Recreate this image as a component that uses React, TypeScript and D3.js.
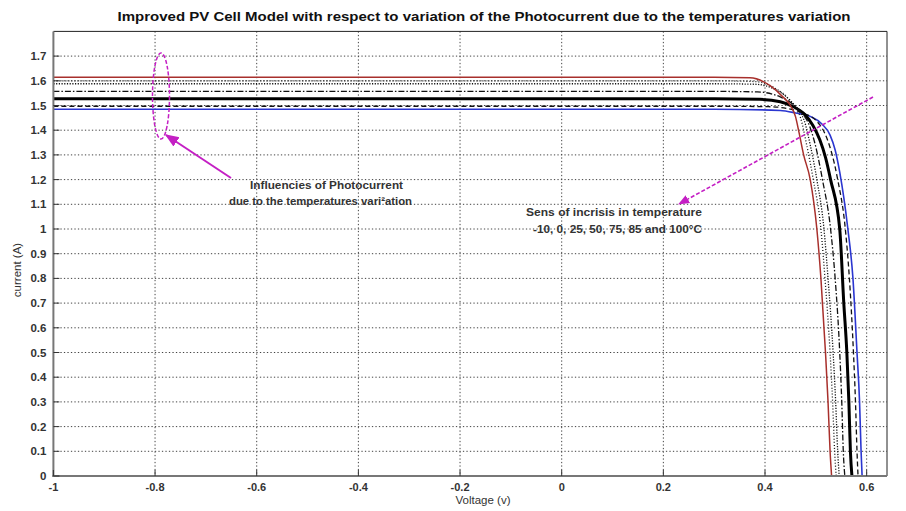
import * as React from 'react';
import { useEffect, useRef } from 'react';
import * as d3 from 'd3';

// temperatures in degC, one I-V curve each
const temps = [-10, 0, 25, 50, 75, 85, 100];

// [voltage (V), current (A)]
const curveM10: [number, number][] = [
  [-1, 1.485], [0.3, 1.485], [0.43, 1.48], [0.46, 1.47], [0.49, 1.455], [0.512, 1.425],
  [0.528, 1.38], [0.538, 1.32], [0.547, 1.23], [0.563, 1.0], [0.573, 0.8], [0.581, 0.5],
  [0.586, 0.3], [0.589, 0.1], [0.591, 0],
];
const curve0: [number, number][] = [
  [-1, 1.497], [0.3, 1.497], [0.41, 1.495], [0.45, 1.485], [0.48, 1.465], [0.5, 1.44],
  [0.517, 1.39], [0.528, 1.33], [0.537, 1.26], [0.543, 1.2], [0.558, 1.0], [0.566, 0.8],
  [0.574, 0.5], [0.578, 0.3], [0.581, 0.1], [0.583, 0],
];
const curve25: [number, number][] = [
  [-1, 1.527], [0.3, 1.527], [0.39, 1.525], [0.43, 1.515], [0.456, 1.495], [0.476, 1.468],
  [0.494, 1.42], [0.508, 1.36], [0.519, 1.29], [0.529, 1.2], [0.547, 1.0], [0.555, 0.7],
  [0.561, 0.5], [0.565, 0.3], [0.568, 0.1], [0.571, 0],
];
const curve50: [number, number][] = [
  [-1, 1.557], [0.3, 1.557], [0.385, 1.555], [0.43, 1.535], [0.455, 1.505], [0.472, 1.47],
  [0.485, 1.43], [0.499, 1.34], [0.513, 1.2], [0.529, 1.0], [0.538, 0.8], [0.547, 0.5],
  [0.551, 0.3], [0.554, 0.1], [0.557, 0],
];
const curve75: [number, number][] = [
  [-1, 1.588], [0.3, 1.588], [0.38, 1.586], [0.425, 1.56], [0.45, 1.52], [0.466, 1.48],
  [0.477, 1.44], [0.489, 1.34], [0.502, 1.2], [0.516, 1.0], [0.524, 0.8], [0.534, 0.5],
  [0.539, 0.3], [0.543, 0.1], [0.546, 0],
];
const curve85: [number, number][] = [
  [-1, 1.6], [0.3, 1.6], [0.38, 1.597], [0.42, 1.57], [0.445, 1.53], [0.46, 1.49],
  [0.47, 1.45], [0.482, 1.34], [0.495, 1.2], [0.51, 1.0], [0.518, 0.8], [0.528, 0.5],
  [0.533, 0.3], [0.537, 0.1], [0.54, 0],
];
const curve100: [number, number][] = [
  [-1, 1.614], [0.3, 1.614], [0.37, 1.612], [0.41, 1.58], [0.435, 1.535], [0.45, 1.5],
  [0.46, 1.455], [0.467, 1.39], [0.476, 1.3], [0.489, 1.2], [0.502, 1.0], [0.51, 0.8],
  [0.519, 0.5], [0.524, 0.3], [0.528, 0.1], [0.531, 0],
];
const curves = [curveM10, curve0, curve25, curve50, curve75, curve85, curve100];

const xTicks = [-1, -0.8, -0.6, -0.4, -0.2, 0, 0.2, 0.4, 0.6];
const xTickLabels = ['-1', '-0.8', '-0.6', '-0.4', '-0.2', '0', '0.2', '0.4', '0.6'];
const yTicks = [0, 0.1, 0.2, 0.3, 0.4, 0.5, 0.6, 0.7, 0.8, 0.9, 1, 1.1, 1.2, 1.3, 1.4, 1.5, 1.6, 1.7];
const yTickLabels = ['0', '0.1', '0.2', '0.3', '0.4', '0.5', '0.6', '0.7', '0.8', '0.9', '1', '1.1', '1.2', '1.3', '1.4', '1.5', '1.6', '1.7'];

const title = 'Improved PV Cell Model with respect to variation of the Photocurrent due to the temperatures variation';
const note1 = ['Influencies of Photocurrent', 'due to the temperatures vari\u00b2ation'];
const note2 = ['Sens of incrisis in temperature', '-10, 0, 25, 50, 75, 85 and 100\u00b0C'];

// line style per temperature (same order as temps)
const styles = [
  { color: '#2b36d0', width: 1.6, dash: '' },
  { color: '#111', width: 1.3, dash: '5,3' },
  { color: '#000', width: 3, dash: '' },
  { color: '#111', width: 1.3, dash: '6,2,1.5,2' },
  { color: '#111', width: 1.3, dash: '1.2,1.5' },
  { color: '#111', width: 1.3, dash: '1,2' },
  { color: '#a8302c', width: 1.5, dash: '' },
];

const FONT = '"Liberation Sans", Arial, sans-serif';

export default function App() {
  const ref = useRef<SVGSVGElement | null>(null);

  useEffect(() => {
    if (!ref.current) return;
    const svg = d3.select(ref.current);
    svg.selectAll('*').remove();

    const left = 53.4, right = 887, top = 31.4, bottom = 476;
    const x = d3.scaleLinear().domain([-1, 0.64]).range([left, right]);
    const y = d3.scaleLinear().domain([0, 1.8]).range([bottom, top]);

    svg.append('rect').attr('width', 906).attr('height', 511).attr('fill', '#fff');

    const defs = svg.append('defs');
    defs.append('clipPath').attr('id', 'plotclip')
      .append('rect').attr('x', left).attr('y', top).attr('width', right - left).attr('height', bottom - top);
    defs.append('marker').attr('id', 'arr').attr('viewBox', '0 0 10 10')
      .attr('refX', 9).attr('refY', 5).attr('markerWidth', 7).attr('markerHeight', 7)
      .attr('orient', 'auto-start-reverse')
      .append('path').attr('d', 'M0,1 L10,5 L0,9 Z').attr('fill', '#c41fc4');

    // grid
    const grid = svg.append('g').attr('stroke', '#444').attr('stroke-width', 1).attr('stroke-dasharray', '1.3,2.2');
    grid.selectAll('line.gx').data(xTicks.slice(1)).enter().append('line')
      .attr('x1', d => x(d)).attr('x2', d => x(d)).attr('y1', top).attr('y2', bottom);
    grid.selectAll('line.gy').data(yTicks.slice(1)).enter().append('line')
      .attr('y1', d => y(d)).attr('y2', d => y(d)).attr('x1', left).attr('x2', right);

    // curves
    const line = d3.line<[number, number]>()
      .x(d => x(d[0]))
      .y(d => y(d[1]))
      .curve(d3.curveMonotoneX);
    const g = svg.append('g').attr('clip-path', 'url(#plotclip)');
    curves.forEach((c, i) => {
      const s = styles[i];
      g.append('path')
        .attr('d', line(c))
        .attr('fill', 'none')
        .attr('stroke', s.color)
        .attr('stroke-width', s.width)
        .attr('stroke-dasharray', s.dash || null)
        .attr('data-temp', temps[i]);
    });

    // box
    svg.append('line').attr('x1', left).attr('x2', right).attr('y1', top).attr('y2', top).attr('stroke', '#222');
    svg.append('line').attr('x1', right).attr('x2', right).attr('y1', top).attr('y2', bottom).attr('stroke', '#222');
    svg.append('line').attr('x1', left).attr('x2', left).attr('y1', top).attr('y2', bottom + 1)
      .attr('stroke', '#777').attr('stroke-width', 2);
    svg.append('line').attr('x1', left - 1).attr('x2', right).attr('y1', bottom).attr('y2', bottom)
      .attr('stroke', '#777').attr('stroke-width', 2);

    // ticks
    const tk = svg.append('g').attr('stroke', '#333').attr('stroke-width', 1);
    tk.selectAll('line.tx').data(xTicks).enter().append('line')
      .attr('x1', d => x(d)).attr('x2', d => x(d)).attr('y1', bottom).attr('y2', bottom - 6);
    tk.selectAll('line.ty').data(yTicks).enter().append('line')
      .attr('y1', d => y(d)).attr('y2', d => y(d)).attr('x1', left).attr('x2', left + 6);

    // tick labels
    svg.append('g').selectAll('text').data(xTicks).enter().append('text')
      .attr('x', d => x(d)).attr('y', bottom + 15)
      .attr('text-anchor', 'middle')
      .attr('font-family', FONT).attr('font-size', 11).attr('font-weight', 'bold').attr('fill', '#333')
      .text((d, i) => xTickLabels[i]);
    svg.append('g').selectAll('text').data(yTicks).enter().append('text')
      .attr('x', left - 7).attr('y', d => y(d) + 4)
      .attr('text-anchor', 'end')
      .attr('font-family', FONT).attr('font-size', 11.5).attr('font-weight', 'bold').attr('fill', '#333')
      .text((d, i) => yTickLabels[i]);

    // axis titles
    svg.append('text').attr('x', 483).attr('y', 504).attr('text-anchor', 'middle')
      .attr('font-family', FONT).attr('font-size', 11.5).attr('fill', '#333')
      .text('Voltage (v)');
    svg.append('text').attr('transform', 'translate(21,270) rotate(-90)').attr('text-anchor', 'middle')
      .attr('font-family', FONT).attr('font-size', 11.5).attr('fill', '#333')
      .text('current (A)');

    svg.append('text').attr('x', 484).attr('y', 21).attr('text-anchor', 'middle')
      .attr('font-family', FONT).attr('font-size', 13).attr('font-weight', 'bold').attr('fill', '#111')
      .attr('textLength', 733).attr('lengthAdjust', 'spacingAndGlyphs')
      .text(title);

    // annotations
    const mag = '#c41fc4';
    svg.append('ellipse').attr('cx', 161).attr('cy', 96).attr('rx', 8.5).attr('ry', 43)
      .attr('fill', 'none').attr('stroke', mag).attr('stroke-width', 1.5).attr('stroke-dasharray', '4,2');
    svg.append('line').attr('x1', 231).attr('y1', 178).attr('x2', 166).attr('y2', 135)
      .attr('stroke', mag).attr('stroke-width', 2).attr('marker-end', 'url(#arr)');
    svg.append('line').attr('x1', 873).attr('y1', 97).attr('x2', 679).attr('y2', 204)
      .attr('stroke', mag).attr('stroke-width', 1.6).attr('stroke-dasharray', '4,2').attr('marker-end', 'url(#arr)');

    const notes: [string, number, number, number][] = [
      [note1[0], 250, 189, 153],
      [note1[1], 229, 205, 183],
      [note2[0], 526, 216, 176],
      [note2[1], 533, 233, 169],
    ];
    notes.forEach(([t, nx, ny, w]) => {
      svg.append('text').attr('x', nx).attr('y', ny)
        .attr('font-family', FONT).attr('font-size', 11).attr('font-weight', 'bold').attr('fill', '#333')
        .attr('textLength', w).attr('lengthAdjust', 'spacingAndGlyphs')
        .text(t);
    });
  }, []);

  return <svg ref={ref} width={906} height={511} style={{ position: 'absolute', left: 0, top: 0 }} />;
}
